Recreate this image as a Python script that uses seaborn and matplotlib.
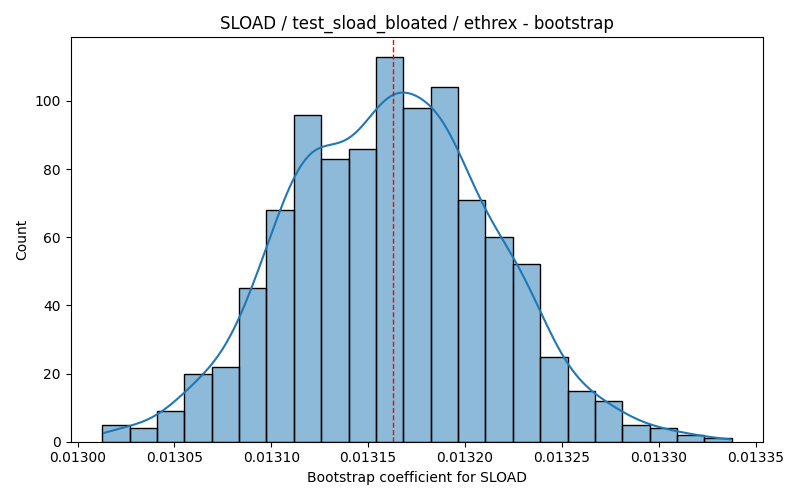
import matplotlib
matplotlib.use("Agg")
import matplotlib.pyplot as plt
import seaborn as sns
import numpy as np
import pandas as pd

# histogram: 23 bins, 1000 bootstrap samples
bin_start = 0.0130127
bin_end = 0.0133377
counts = [5, 4, 9, 20, 22, 45, 68, 96, 83, 86, 113, 98, 104,
          71, 60, 52, 25, 15, 12, 5, 4, 2, 1]
mean_coef = 0.0131627

edges = np.linspace(bin_start, bin_end, len(counts) + 1)
centers = (edges[:-1] + edges[1:]) / 2
df = pd.DataFrame({"coef": centers, "n": counts})

fig, ax = plt.subplots(figsize=(8, 5), dpi=100)
sns.histplot(data=df, x="coef", weights="n", bins=len(counts),
             binrange=(bin_start, bin_end), kde=True,
             kde_kws={"bw_adjust": 0.40, "cut": 0.3},
             edgecolor="black", ax=ax)
ax.axvline(mean_coef, color="red", linestyle="--", linewidth=1)

# keep the usual 5% padding around the bars, not around the kde tails
pad = 0.05 * (bin_end - bin_start)
ax.set_xlim(bin_start - pad, bin_end + pad)

ax.set_title("SLOAD / test_sload_bloated / ethrex - bootstrap")
ax.set_xlabel("Bootstrap coefficient for SLOAD")
ax.set_ylabel("Count")
plt.tight_layout()
plt.savefig("out.png", dpi=100)
